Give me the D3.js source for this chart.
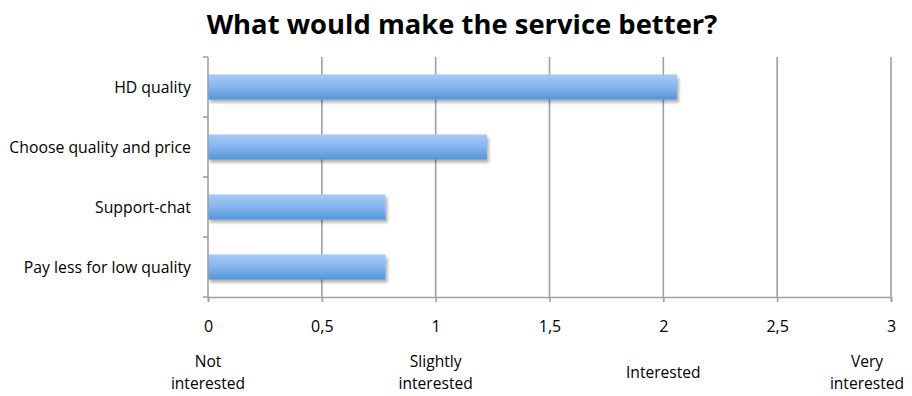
<!DOCTYPE html>
<html><head><meta charset="utf-8">
<script src="https://cdn.jsdelivr.net/npm/d3@7"></script>
<style>
body{margin:0;background:#fff;}
svg{display:block;}
</style></head>
<body>
<svg id="chart" width="912" height="396"></svg>
<script>
const title = "What would make the service better?";
const categories = ["HD quality", "Choose quality and price", "Support-chat", "Pay less for low quality"];
const values = [2.06, 1.225, 0.78, 0.78];
const tickValues = [0, 0.5, 1, 1.5, 2, 2.5, 3];
const scaleLabels = [
  {v: 0, lines: ["Not", "interested"]},
  {v: 1, lines: ["Slightly", "interested"]},
  {v: 2, lines: ["Interested"]},
  {v: 3, lines: ["Very", "interested"]}
];

const W = 912, H = 396;
const m = {left: 208, right: 21, top: 57, bottom: 99};
const svg = d3.select("#chart");
const font = "'Open Sans', 'Liberation Sans', sans-serif";

const x = d3.scaleLinear().domain([0, 3]).range([m.left, W - m.right]);
const y = d3.scaleBand().domain(categories).range([m.top, H - m.bottom]).paddingInner(0.58).paddingOuter(0.29);

const defs = svg.append("defs");
const grad = defs.append("linearGradient").attr("id", "barGrad").attr("x1", 0).attr("y1", 0).attr("x2", 0).attr("y2", 1);
grad.append("stop").attr("offset", "0%").attr("stop-color", "#a8cbf7");
grad.append("stop").attr("offset", "50%").attr("stop-color", "#86b4ee");
grad.append("stop").attr("offset", "100%").attr("stop-color", "#5294d9");
const f = defs.append("filter").attr("id", "shadow").attr("x", "-5%").attr("y", "-30%").attr("width", "115%").attr("height", "180%");
f.append("feDropShadow").attr("dx", 2).attr("dy", 3).attr("stdDeviation", 1.6).attr("flood-color", "#000").attr("flood-opacity", 0.3);

// title
svg.append("text").attr("x", 462).attr("y", 34).attr("text-anchor", "middle")
  .attr("font-family", font).attr("font-weight", "bold").attr("font-size", 27.4).attr("fill", "#000")
  .text(title);

// gridlines
svg.append("g").selectAll("line").data(tickValues.filter(d => d > 0)).join("line")
  .attr("x1", d => x(d)).attr("x2", d => x(d))
  .attr("y1", m.top).attr("y2", H - m.bottom)
  .attr("stroke", "#a0a0a0").attr("stroke-width", 1.6);

// bars
svg.append("g").selectAll("rect").data(categories).join("rect")
  .attr("x", x(0)).attr("y", d => y(d))
  .attr("width", (d, i) => x(values[i]) - x(0))
  .attr("height", y.bandwidth())
  .attr("fill", "url(#barGrad)")
  .attr("filter", "url(#shadow)");

// x axis
const xAxis = svg.append("g").attr("transform", `translate(0,${H - m.bottom})`)
  .call(d3.axisBottom(x).tickValues(tickValues).tickSize(5).tickPadding(19)
    .tickFormat(d => String(d).replace(".", ",")));
xAxis.select(".domain").attr("stroke", "#a0a0a0").attr("stroke-width", 1.6);
xAxis.selectAll(".tick line").attr("stroke", "#a0a0a0").attr("stroke-width", 1.6);
xAxis.selectAll(".tick text").attr("font-family", font).attr("font-size", 16).attr("fill", "#000");

// y axis
const yEdges = d3.range(categories.length + 1).map(i => m.top + i * (H - m.bottom - m.top) / categories.length);
const yAxisG = svg.append("g");
yAxisG.append("line").attr("x1", m.left).attr("x2", m.left).attr("y1", m.top).attr("y2", H - m.bottom)
  .attr("stroke", "#a0a0a0").attr("stroke-width", 1.6);
yAxisG.selectAll("line.t").data(yEdges).join("line").attr("class", "t")
  .attr("x1", m.left - 5).attr("x2", m.left).attr("y1", d => d).attr("y2", d => d)
  .attr("stroke", "#a0a0a0").attr("stroke-width", 1.6);
yAxisG.selectAll("text").data(categories).join("text")
  .attr("x", 191).attr("y", d => y(d) + y.bandwidth() / 2 + 6)
  .attr("text-anchor", "end").attr("font-family", font).attr("font-size", 15.8).attr("fill", "#000")
  .text(d => d);

// scale descriptors (each line its own text element)
const lineItems = scaleLabels.flatMap(d => d.lines.map((t, i) => ({v: d.v, t, i, n: d.lines.length})));
svg.append("g").selectAll("text").data(lineItems).join("text")
  .attr("text-anchor", "middle").attr("font-family", font).attr("font-size", 15.6).attr("fill", "#000")
  .attr("x", d => Math.min(x(d.v), W - 45))
  .attr("y", d => d.n > 1 ? 367 + d.i * 21.5 : 378)
  .text(d => d.t);
</script>
</body></html>
